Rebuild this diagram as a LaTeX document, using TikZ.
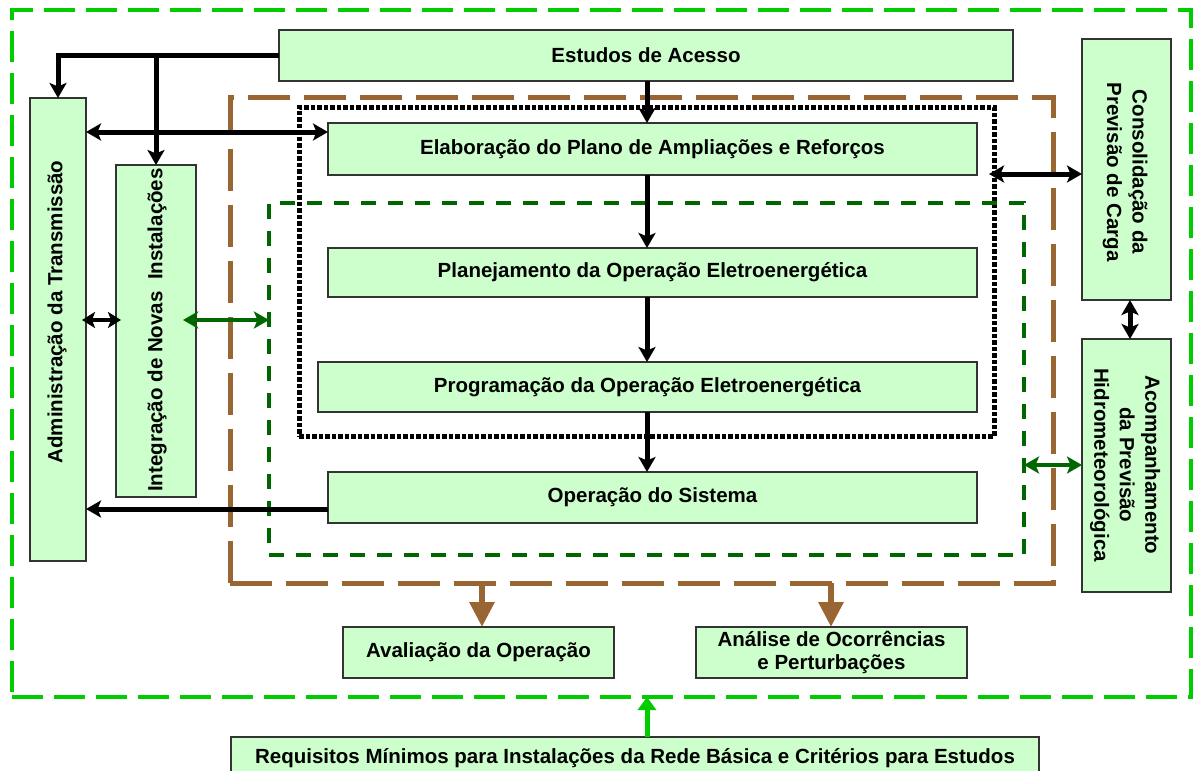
\documentclass[tikz,border=0pt]{standalone}
\usepackage{fontspec}
\setmainfont{Liberation Sans}
\usetikzlibrary{arrows.meta,calc}
\definecolor{boxfill}{HTML}{CCFFCC}
\definecolor{brownc}{HTML}{996633}
\definecolor{brightg}{HTML}{00CC00}
\definecolor{darkg}{HTML}{006600}
\begin{document}
\begin{tikzpicture}[x=1pt,y=-1pt,
  proc/.style={draw=black!80, line width=1.5pt, fill=boxfill, inner sep=0pt, outer sep=0pt,
    font=\fontsize{20.5}{23}\selectfont\bfseries, align=center},
  rtext/.style={inner sep=0pt, font=\fontsize{20.5}{25.5}\selectfont\bfseries, align=center},
  zone/.style={inner sep=0pt, outer sep=0pt},
  blk/.style={draw=black, line width=5pt, >={Stealth[length=15pt,width=17pt,inset=3.5pt]}, ->},
  dblk/.style={blk, <->},
  sblk/.style={draw=black, line width=4.5pt, >={Stealth[length=13pt,width=16pt,inset=3pt]}, <->},
  dgr/.style={draw=darkg, line width=4.5pt, >={Stealth[length=15pt,width=17pt,inset=3.5pt]}, <->},
  brw/.style={draw=brownc, line width=6pt, -{Triangle[length=25pt,width=24pt]}},
  brg/.style={draw=brightg, line width=5pt, -{Triangle[length=13pt,width=18pt]}}
]
\useasboundingbox (0,0) rectangle (1194,771);
\clip (0,0) rectangle (1194,771);
\fill[white] (0,0) rectangle (1194,771);

% zones
\node[zone, draw=brightg, line width=4.5pt, dash pattern=on 31pt off 11pt,
  minimum width=1179pt, minimum height=687pt] (outer) at (601.5,353.5) {};
\node[zone, draw=brownc, line width=5pt, dash pattern=on 42pt off 14pt,
  minimum width=823pt, minimum height=486pt] (brown) at (641.5,340) {};
\node[zone, draw=black, line width=5pt, dash pattern=on 4.5pt off 2pt,
  minimum width=695pt, minimum height=329pt] (dot) at (646.5,271.5) {};
\node[zone, draw=darkg, line width=4pt, dash pattern=on 15pt off 12pt,
  minimum width=755pt, minimum height=352pt] (dg) at (646.5,379) {};

% boxes
\node[proc, minimum width=734pt, minimum height=51pt] (estudos) at (646,55.5) {Estudos de Acesso};
\node[proc, minimum width=56pt, minimum height=463pt] (admin) at (58,329.5) {};
\node[proc, minimum width=80pt, minimum height=332pt] (integ) at (156,331) {};
\node[proc, minimum width=649pt, minimum height=52pt] (elab) at (652.5,149) {Elaboração do Plano de Ampliações e Reforços};
\node[proc, minimum width=649pt, minimum height=49pt] (plan) at (652.5,272.5) {Planejamento da Operação Eletroenergética};
\node[proc, minimum width=659pt, minimum height=50pt] (prog) at (647.5,387) {Programação da Operação Eletroenergética};
\node[proc, minimum width=649pt, minimum height=51pt] (oper) at (652.5,497.5) {Operação do Sistema};
\node[proc, minimum width=89pt, minimum height=261pt] (consol) at (1126.5,169.5) {};
\node[proc, minimum width=89pt, minimum height=253pt] (acomp) at (1126.5,465.5) {};
\node[proc, minimum width=271pt, minimum height=51pt] (aval) at (478.5,652.5) {Avaliação da Operação};
\node[proc, minimum width=271pt, minimum height=51pt] (anal) at (831.5,652.5) {Análise de Ocorrências\\e Perturbações};
\node[proc, minimum width=808pt, minimum height=43pt] (req) at (635,758.5) {Requisitos Mínimos para Instalações da Rede Básica e Critérios para Estudos};

% rotated texts
\node[rtext, rotate=90] (admint) at (57,312) {Administração da Transmissão};
\node[rtext, rotate=90] (integt) at (157,330) {Integração de Novas\ \ Instalações};
\node[rtext, rotate=-90] (consolt) at (1125,172) {Consolidação da\\Previsão de Carga};
\node[rtext, rotate=-90] (acompt) at (1125,465) {Acompanhamento\\da Previsão\\Hidrometeorológica};

% helper coordinates
\coordinate (colx) at (647,0);
\coordinate (h1) at (0,132);
\coordinate (h2) at (0,320);
\coordinate (h3) at (0,509);
\coordinate (h4) at (0,174);
\coordinate (h5) at (0,465);
\coordinate (v1) at (1130,0);
\coordinate (b1) at (482,0);
\coordinate (b2) at (831,0);
\coordinate (integin) at ([xshift=-13pt]integ.east);
\coordinate (dotin) at ([xshift=-5pt]dot.east);
\coordinate (adminin) at ([xshift=-4pt]admin.east);
\coordinate (integl) at ([xshift=5pt]integ.west);

% connectors
\draw[blk] (estudos.west) -| (admin.north);
\draw[blk] (estudos.west -| integ.north) -- (integ.north);
\draw[dblk] (admin.east |- h1) -- (elab.west |- h1);
\draw[sblk] (adminin |- h2) -- (integl |- h2);
\draw[dgr] (integin |- h2) -- (dg.west |- h2);
\draw[blk] (oper.west |- h3) -- (admin.east |- h3);
\draw[blk] (colx |- estudos.south) -- (colx |- elab.north);
\draw[blk] (colx |- elab.south) -- (colx |- plan.north);
\draw[blk] (colx |- plan.south) -- (colx |- prog.north);
\draw[blk] (colx |- prog.south) -- (colx |- oper.north);
\draw[dblk] (dotin |- h4) -- (consol.west |- h4);
\draw[dblk] (v1 |- consol.south) -- (v1 |- acomp.north);
\draw[dgr] (dg.east |- h5) -- (acomp.west |- h5);
\draw[brw] (b1 |- brown.south) -- (b1 |- aval.north);
\draw[brw] (b2 |- brown.south) -- (b2 |- anal.north);
\draw[brg] (colx |- req.north) -- (colx |- outer.south);
\end{tikzpicture}
\end{document}
